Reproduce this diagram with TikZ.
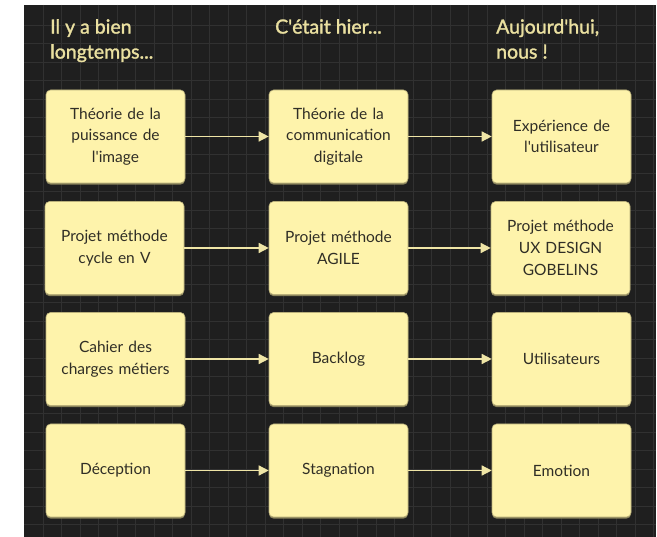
\documentclass[tikz,border=0pt]{standalone}
\usepackage{fontspec}
\setmainfont{Lato}
\newfontfamily\headfont[FakeBold=1.5]{Lato}
\usetikzlibrary{arrows.meta}

\definecolor{boardbg}{HTML}{1F1F1F}
\definecolor{gridln}{HTML}{313131}
\definecolor{notefill}{HTML}{FEF3AB}
\definecolor{noteedge}{HTML}{B9AF7A}
\definecolor{noteshadow}{HTML}{8A845C}
\definecolor{notetext}{HTML}{302E26}
\definecolor{headtext}{HTML}{EAE0A0}
\definecolor{linkcol}{HTML}{EFE5A6}

\tikzset{
  note/.style={draw=noteedge, line width=0.6pt, fill=notefill,
    rounded corners=4.5pt, minimum width=139pt, minimum height=93pt,
    text width=134pt, align=center, inner sep=0pt, text=notetext,
    font=\fontsize{15.5}{21.7}\selectfont,
    preaction={fill=noteshadow, draw=none, transform canvas={yshift=-1.6pt}}},
  heading/.style={anchor=north west, inner sep=0pt, align=left, text=headtext,
    font=\headfont\fontsize{19.5}{25}\selectfont},
  link/.style={draw=linkcol, line width=1.4pt,
    -{Triangle[length=10pt,width=10pt]}}
}

\begin{document}
\begin{tikzpicture}[x=1pt,y=-1pt]
  % page and dark board
  \fill[white] (0,0) rectangle (657,537);
  \fill[boardbg] (24,5) rectangle (656,537);
  \begin{scope}
    \clip (24,5) rectangle (656,537);
    \foreach \gx in {0,...,34} {
      \draw[gridln, line width=0.8pt] ({43.3+18.5*\gx},5) -- ({43.3+18.5*\gx},537);
    }
    \foreach \gy in {0,...,28} {
      \draw[gridln, line width=0.8pt] (24,{25+18.5*\gy}) -- (656,{25+18.5*\gy});
    }
  \end{scope}

  % column headings
  \node[heading] (h1) at (50,19) {Il y a bien\\longtemps...};
  \node[heading] (h2) at (275,19) {C\textquotesingle était hier...};
  \node[heading] (h3) at (496,19) {Aujourd\textquotesingle hui,\\nous !};

  % first column
  \node[note] (a1) at (115.5,136.5) {Théorie de la\\puissance de\\l\textquotesingle image};
  \node[note] (a2) at (114.5,248) {Projet méthode\\cycle en V};
  \node[note] (a3) at (115.5,359) {Cahier des\\charges métiers};
  \node[note] (a4) at (115.5,470.5) {Déception};

  % second column
  \node[note] (b1) at (338.5,136.5) {Théorie de la\\communication\\digitale};
  \node[note] (b2) at (338.5,248) {Projet méthode\\AGILE};
  \node[note] (b3) at (338.5,359) {Backlog};
  \node[note] (b4) at (338.5,470.5) {Stagnation};

  % third column
  \node[note] (c1) at (561.5,136.5) {Expérience de\\l\textquotesingle utilisateur};
  \node[note] (c2) at (560.5,248) {Projet méthode\\UX DESIGN\\GOBELINS};
  \node[note] (c3) at (561.5,359) {Utilisateurs};
  \node[note] (c4) at (561.5,470.5) {Emotion};

  % links between columns
  \foreach \r in {1,2,3,4} {
    \draw[link] (a\r.east) -- (b\r.west);
    \draw[link] (b\r.east) -- (c\r.west);
  }
\end{tikzpicture}
\end{document}
